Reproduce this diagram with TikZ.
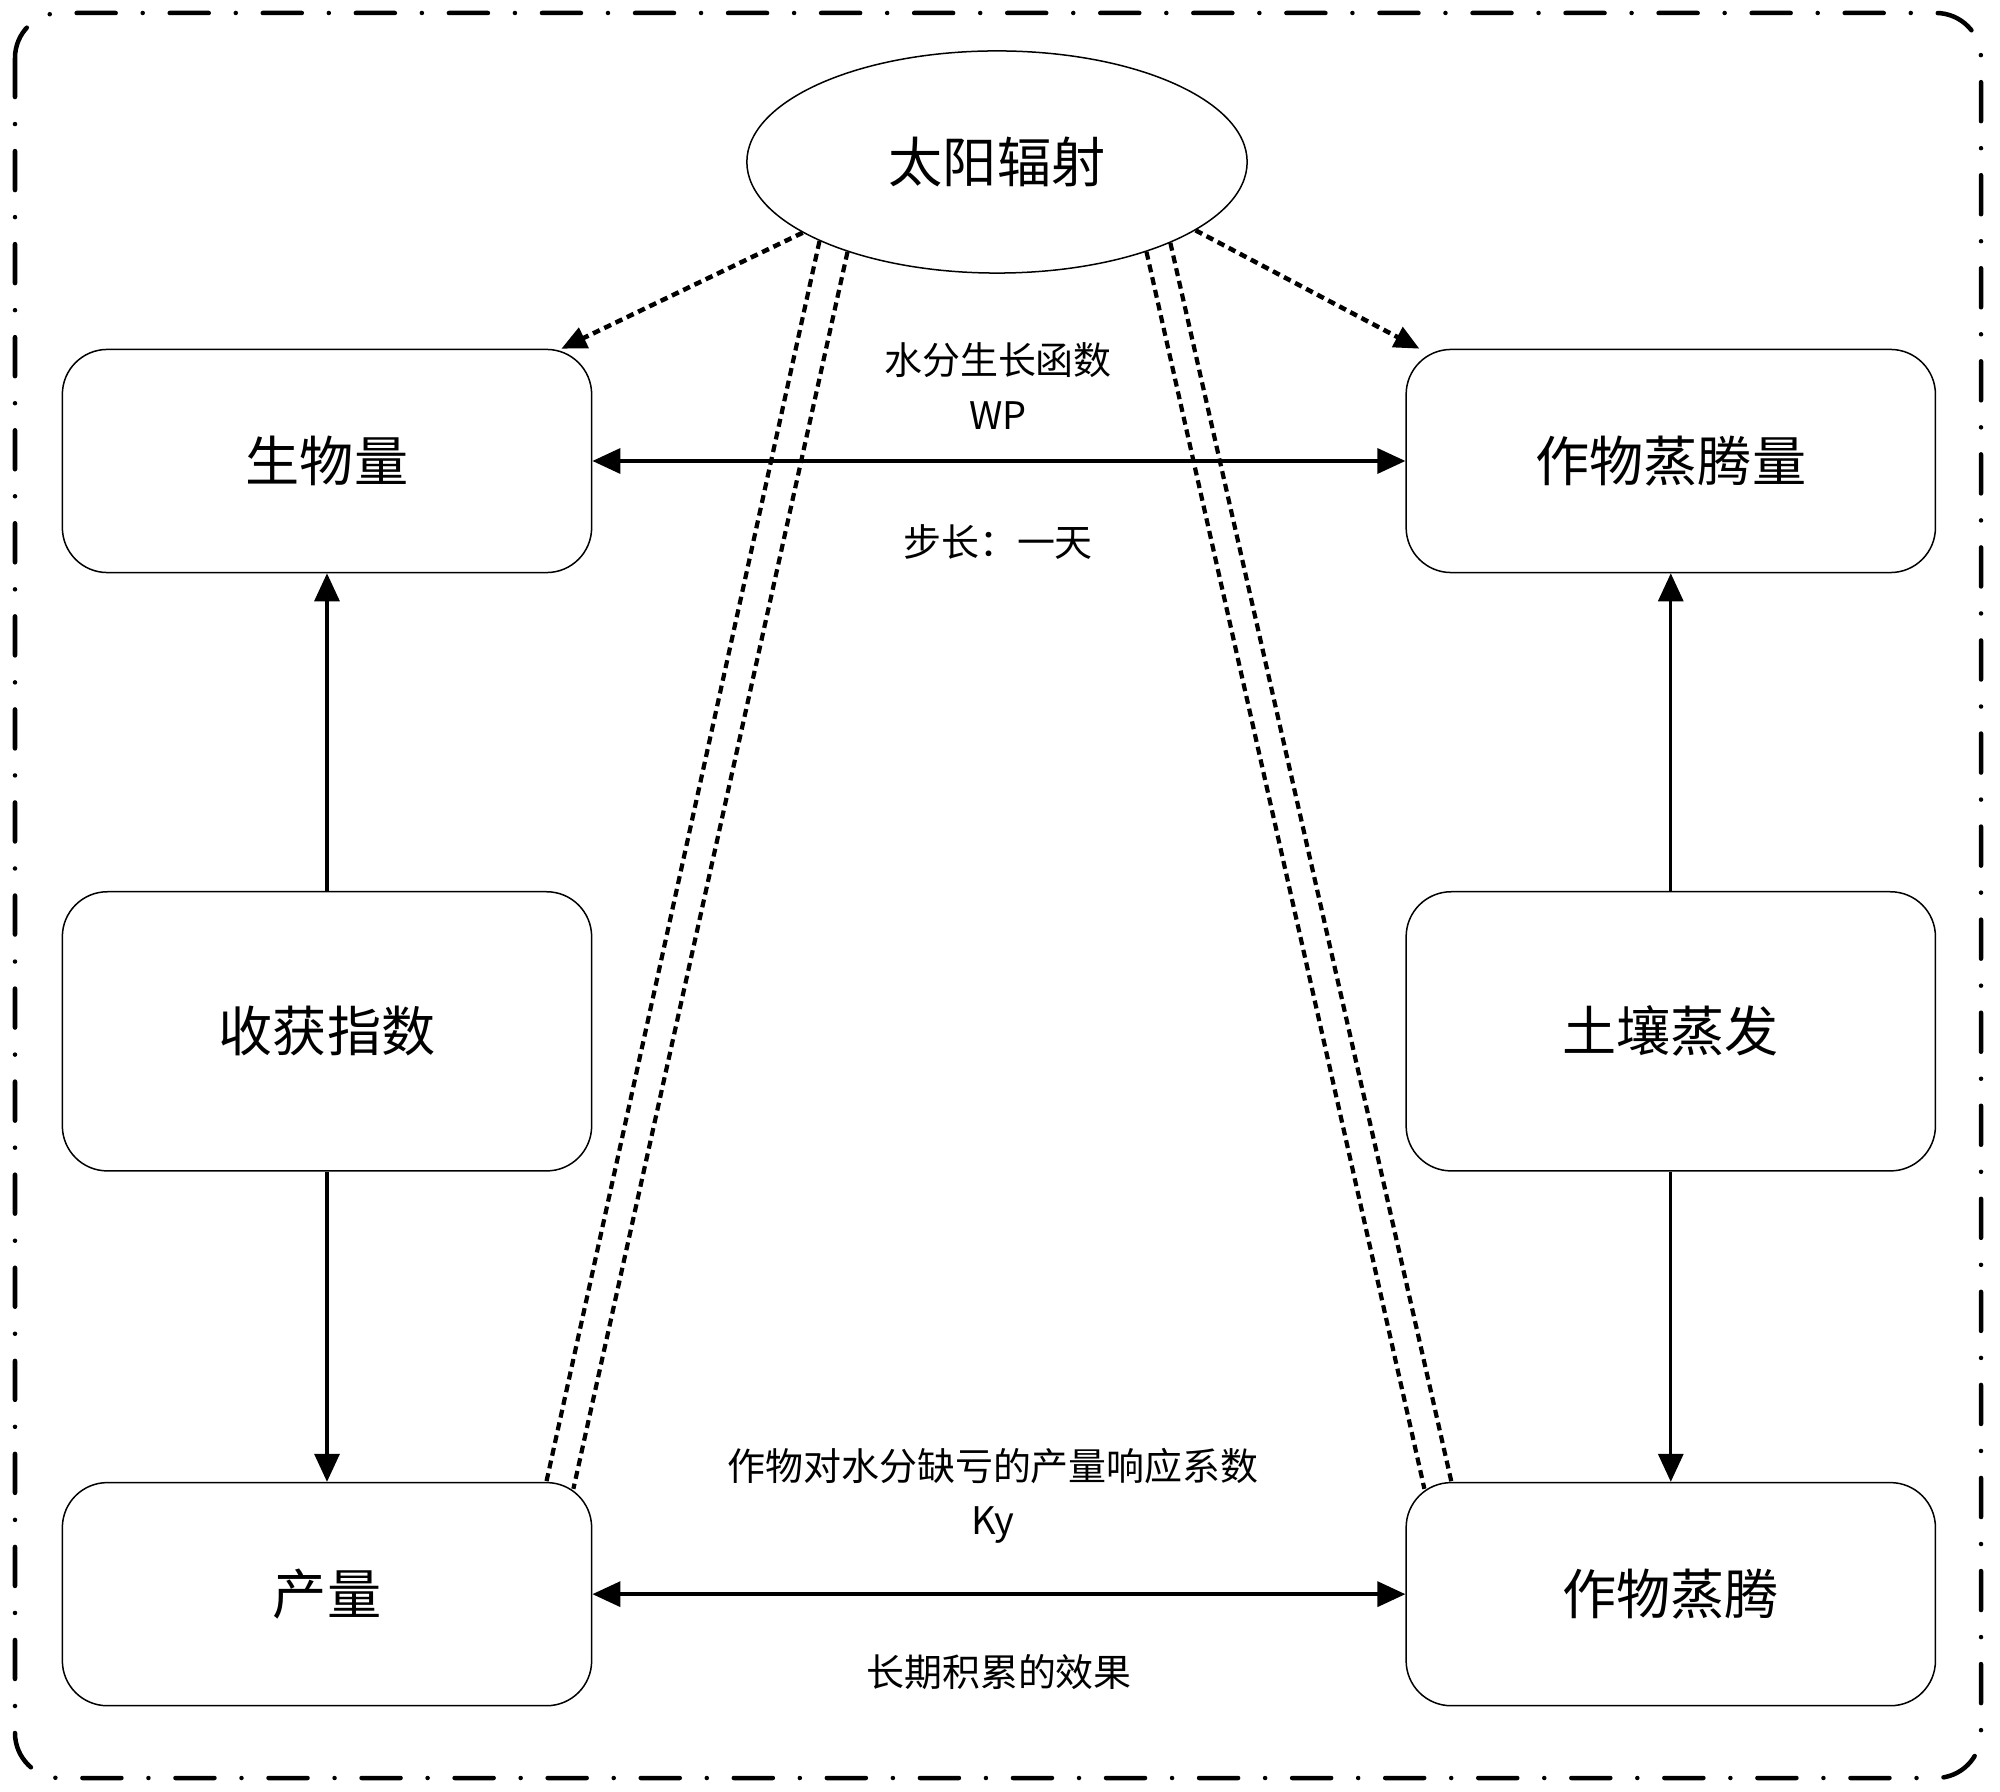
\documentclass[tikz,border=0pt]{standalone}
\usepackage{fontspec}
\newfontfamily\cjk{Noto Sans CJK SC}
\usetikzlibrary{arrows.meta,positioning,shapes.geometric}
\tikzset{
  blk/.style={draw, rounded corners=0.45cm, line width=0.015cm, minimum width=5.29cm, minimum height=2.23cm, inner sep=0pt, font=\cjk\fontsize{15.4}{18}\selectfont},
  sunell/.style={draw, ellipse, line width=0.015cm, minimum width=5cm, minimum height=2.22cm, inner sep=0pt, font=\cjk\fontsize{15.4}{18}\selectfont},
  lbl/.style={align=center, inner sep=0pt, font=\cjk\fontsize{10.8}{15.5}\selectfont},
  fl/.style={-{Triangle[length=0.28cm,width=0.25cm]}, line width=0.032cm},
  bi/.style={{Triangle[length=0.28cm,width=0.25cm]}-{Triangle[length=0.28cm,width=0.25cm]}, line width=0.035cm},
  dfl/.style={-{Triangle[length=0.25cm,width=0.22cm]}, line width=0.045cm, dash pattern=on 0.075cm off 0.05cm},
  link/.style={line width=0.042cm, dash pattern=on 0.08cm off 0.05cm},
  frame/.style={line width=0.045cm, rounded corners=0.45cm, line cap=round, dash pattern=on 0.39cm off 0.27cm on 0cm off 0.27cm},
}
\begin{document}
\begin{tikzpicture}[x=0.01cm, y=-0.01cm, node distance=3.175cm and 8.125cm]
  \useasboundingbox (0,0) rectangle (2000,1792);
  \draw[frame] (15,13) rectangle (1981,1778);
  % sun and the six boxes
  \node[sunell] (sun) at (997,162) {太阳辐射};
  \node[blk] (bio) at (327,461) {生物量};
  \node[blk, minimum height=2.79cm, below=of bio] (hi) {收获指数};
  \node[blk, below=3.1cm of hi] (yield) {产量};
  \node[blk, right=of bio] (etq) {作物蒸腾量};
  \node[blk, minimum height=2.79cm, below=of etq] (soil) {土壤蒸发};
  \node[blk, below=3.1cm of soil] (et) {作物蒸腾};
  % twin dashed links from the sun
  \draw[link] (sun.-156) -- ([xshift=-0.46cm]yield.north east);
  \draw[link] (sun.-149.2) -- ([xshift=-0.19cm,yshift=-0.07cm]yield.north east);
  \draw[link] (sun.-25) -- ([xshift=0.46cm]et.north west);
  \draw[link] (sun.-31.1) -- ([xshift=0.19cm,yshift=-0.07cm]et.north west);
  \draw[dfl] (sun.-160.6) -- ([xshift=-0.31cm]bio.north east);
  \draw[dfl] (sun.-19.4) -- ([xshift=0.14cm]etq.north west);
  % arrows between boxes
  \draw[fl] (hi) -- (bio);
  \draw[fl] (hi) -- (yield);
  \draw[fl] (soil) -- (etq);
  \draw[fl] (soil) -- (et);
  \draw[bi] (bio) -- (etq);
  \draw[bi] (yield) -- (et);
  \node[lbl] (wp) at (998,386) {水分生长函数\\WP};
  \node[lbl] (step) at (998,542) {步长：一天};
  \node[lbl] (ky) at (993,1496) {作物对水分缺亏的产量响应系数\\Ky};
  \node[lbl] (cum) at (999,1672) {长期积累的效果};
\end{tikzpicture}
\end{document}
